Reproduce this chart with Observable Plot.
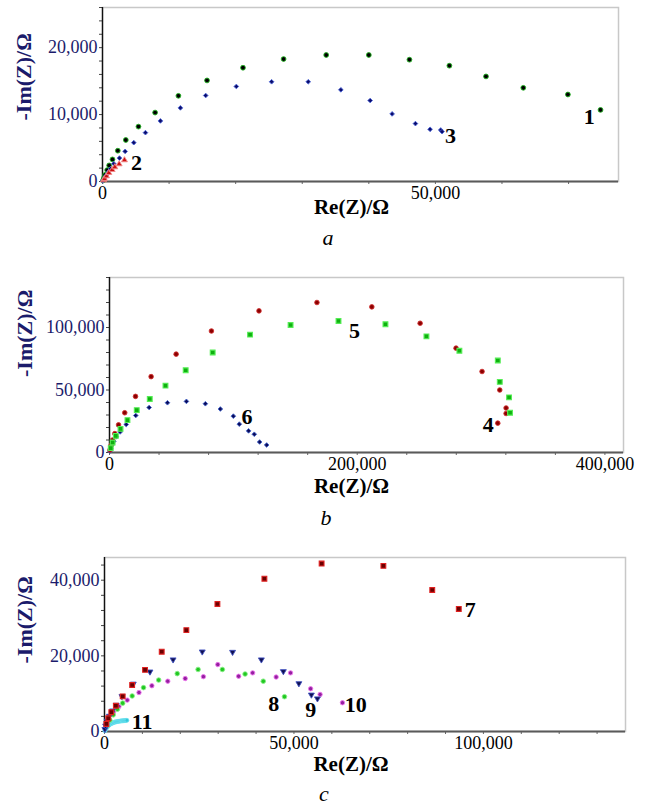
<!DOCTYPE html>
<html>
<head>
<meta charset="utf-8">
<script src="https://cdn.jsdelivr.net/npm/d3@7"></script>
<script src="https://cdn.jsdelivr.net/npm/@observablehq/plot@0.6"></script>
<style>
  body { margin: 0; background: #fff; }
  #wrap { position: relative; width: 645px; height: 807px; font-family: "Liberation Serif", "Times New Roman", serif; }
  .panel { position: absolute; left: 0; }
  .cap { position: absolute; font-style: italic; font-size: 22px; transform: translate(-50%, -50%); line-height: 1; }
  g[aria-label="y-axis tick label"] text { fill: #1b1b6b; }
  g[aria-label="x-axis tick label"] text { fill: #000; }
</style>
</head>
<body>
<div id="wrap"></div>
<script>
// ---------- Panel a ----------
const s1Re = [80, 200, 400, 700, 1000, 1500, 2300, 3500, 5400, 7900, 11400, 15700, 21100, 27200, 33600, 40000, 46100, 52100, 57600, 63200, 69900, 74800];
const s1Im = [150, 500, 1000, 1700, 2400, 3300, 4600, 6200, 8200, 10300, 12800, 15100, 17000, 18300, 18900, 18900, 18200, 17300, 15700, 14000, 13000, 10700];
const s2Re = [150, 300, 600, 950, 1450, 1850, 2500, 3300];
const s2Im = [200, 400, 800, 1300, 1750, 2150, 2600, 3200];
const s3Re = [50, 150, 300, 500, 700, 950, 1200, 1700, 2550, 3400, 4700, 6450, 8700, 11700, 15500, 20100, 25400, 30900, 35800, 40200, 43500, 47000, 49200, 50800, 51000];
const s3Im = [80, 250, 500, 800, 1100, 1500, 1900, 2650, 3500, 4500, 5800, 7300, 9050, 11000, 12850, 14200, 14900, 14900, 13700, 12100, 10100, 8650, 7800, 7700, 7450];
const labelsA = ["1", "2", "3"];
const labelsARe = [73100, 5100, 52250];
const labelsAIm = [9600, 2840, 6870];

// ---------- Panel b ----------
const s4Re = [400, 1200, 2500, 4300, 7300, 12300, 21000, 33600, 53800, 82300, 120700, 167500, 211800, 250800, 279800, 300800, 315100, 320200, 320200, 313500];
const s4Im = [2000, 5500, 10000, 15100, 22100, 31800, 44900, 60700, 78700, 97200, 113300, 120000, 116500, 103400, 83500, 64800, 50000, 35600, 31200, 23500];
const s5Re = [1000, 2500, 5100, 8900, 14500, 22000, 32500, 45200, 61500, 83300, 113500, 146200, 184900, 222800, 255900, 282500, 313500, 315100, 322600, 323400];
const s5Im = [3500, 8000, 13300, 18900, 25900, 33900, 42800, 53500, 65800, 80000, 94300, 102000, 105200, 102600, 92900, 81400, 73600, 56500, 44100, 31800];
const s6Re = [300, 1000, 2000, 3500, 5600, 8600, 13500, 21200, 32000, 46800, 62100, 77400, 89500, 100000, 104800, 112300, 116900, 121200, 126900];
const s6Im = [1000, 3000, 6000, 9000, 12700, 16500, 22400, 29600, 36000, 39800, 40900, 39000, 34800, 29100, 22700, 17300, 14600, 8400, 6000];
const labelsB = ["4", "5", "6"];
const labelsBRe = [305900, 197800, 111000];
const labelsBIm = [22100, 96900, 28800];

// ---------- Panel c ----------
const s7Re = [500, 1000, 1800, 3000, 4800, 7300, 10700, 15100, 21600, 29800, 42200, 57300, 73600, 86500, 93500];
const s7Im = [2000, 3500, 5100, 6800, 9300, 12300, 16300, 21100, 26800, 33700, 40400, 44400, 43800, 37400, 32400];
const s8Re = [600, 1400, 2300, 3400, 4800, 7300, 10300, 14300, 19200, 24700, 31100, 37100, 41900, 47500];
const s8Im = [1500, 3000, 4400, 5900, 7500, 9400, 11600, 13600, 15300, 16400, 16400, 15200, 13300, 9200];
const s9Re = [100, 300, 700, 1300, 2100, 3100, 4600, 7600, 12000, 18100, 25800, 33800, 41400, 47200, 51300, 54600, 56200];
const s9Im = [600, 1500, 2800, 4100, 5500, 7000, 9300, 12600, 15800, 19000, 21100, 21000, 19000, 15900, 12700, 9700, 8700];
const s10Re = [2400, 3800, 6000, 9100, 12500, 16700, 21300, 26100, 29900, 35400, 39100, 45300, 49100, 54400, 56900, 62800];
const s10Im = [5200, 6600, 8300, 10300, 12100, 13300, 14000, 14500, 17700, 14600, 15500, 14400, 15500, 11300, 9800, 7600];
const s11Re = [100, 200, 350, 500, 700, 900, 1150, 1400, 1700, 2000, 2300, 2600, 2900, 3200, 3500, 3800, 4100, 4400, 4700, 5000, 5300, 5600, 5900];
const s11Im = [200, 400, 650, 900, 1150, 1400, 1650, 1850, 2050, 2200, 2330, 2450, 2530, 2600, 2660, 2700, 2750, 2800, 2830, 2860, 2890, 2920, 2950];
const labelsC = ["7", "8", "9", "10", "11"];
const labelsCRe = [96500, 44700, 54400, 66300, 9950];
const labelsCIm = [32200, 7400, 5700, 6900, 2500];

const captions = ["a", "b", "c"];
const xTitle = "Re(Z)/Ω";
const yTitle = "-Im(Z)/Ω";

// ---------- helpers ----------
const zip = (xs, ys) => xs.map((x, i) => ({x, y: ys[i]}));
const fmt = d3.format(",");
const triDown = {
  draw(ctx, size) {
    const s = Math.sqrt(size * 4 / Math.sqrt(3));
    const h = s * Math.sqrt(3) / 2;
    ctx.moveTo(-s / 2, -h / 3);
    ctx.lineTo(s / 2, -h / 3);
    ctx.lineTo(0, 2 * h / 3);
    ctx.closePath();
  }
};
const FONT = "Liberation Serif";

function panel(cfg) {
  const marks = [
    Plot.frame({stroke: "#c8c8c8", strokeWidth: 1.5}),
    Plot.axisX({ticks: cfg.xTicks, tickFormat: d => d % cfg.xLab === 0 ? fmt(d) : "", tickSize: 3, tickPadding: 2, stroke: "#666", label: null}),
    Plot.axisY({ticks: cfg.yTicks, tickFormat: d => d % cfg.yLab === 0 ? fmt(d) : "", tickSize: 3, tickPadding: 2, stroke: "#444", label: null}),
    Plot.ruleY([0], {stroke: "#5a5a5a", strokeWidth: 2.2}),
    Plot.ruleX([0], {stroke: "#111", strokeWidth: 1.4})
  ];
  for (const s of cfg.series) {
    marks.push(Plot.dot(zip(s.re, s.im), {x: "x", y: "y", symbol: s.symbol, r: s.r, fill: s.fill, stroke: s.stroke, strokeWidth: s.sw ?? 0.9}));
  }
  marks.push(Plot.text(cfg.labels.map((t, i) => ({t, x: cfg.labRe[i], y: cfg.labIm[i]})),
    {x: "x", y: "y", text: "t", fontFamily: FONT, fontWeight: "bold", fontSize: 22, fill: "#000"}));
  marks.push(Plot.text([xTitle], {frameAnchor: "bottom", dx: cfg.xtDx, dy: cfg.xtDy, fontFamily: FONT, fontWeight: "bold", fontSize: 21, fill: "#000"}));
  marks.push(Plot.text([yTitle], {frameAnchor: "left", dx: cfg.ytDx, dy: cfg.ytDy, rotate: -90, fontFamily: FONT, fontWeight: "bold", fontSize: 22, fill: "#1b1b6b"}));
  return Plot.plot({
    width: 645,
    height: cfg.height,
    marginTop: cfg.mt, marginBottom: cfg.mb, marginLeft: cfg.ml, marginRight: cfg.mr,
    x: {domain: [0, cfg.xMax]},
    y: {domain: [0, cfg.yMax]},
    style: {fontFamily: FONT, fontSize: "18px", background: "transparent", overflow: "visible"},
    marks
  });
}

const wrap = document.getElementById("wrap");
const configs = [
  {top: 0, height: 230, mt: 7, mb: 49, ml: 102, mr: 27, xMax: 77500, yMax: 26000,
   xTicks: d3.range(0, 77501, 10000), xLab: 50000, yTicks: d3.range(0, 26001, 2000), yLab: 10000,
   xtDx: -9, xtDy: 32, ytDx: -79, ytDy: 26,
   labels: labelsA, labRe: labelsARe, labIm: labelsAIm,
   series: [
     {re: s1Re, im: s1Im, symbol: "circle", r: 2.4, fill: "#000", stroke: "#22b422"},
     {re: s3Re, im: s3Im, symbol: "diamond2", r: 2.1, fill: "#0b0b6b", stroke: "#4a64d8"},
     {re: s2Re, im: s2Im, symbol: "triangle", r: 2.2, fill: "#cc1010", stroke: "#f08a8a"}
   ], cap: 238, capX: 328},
  {top: 250, height: 250, mt: 27, mb: 48, ml: 109, mr: 22, xMax: 415000, yMax: 140000,
   xTicks: d3.range(0, 415001, 40000), xLab: 200000, yTicks: d3.range(0, 140001, 10000), yLab: 50000,
   xtDx: -15, xtDy: 40, ytDx: -85, ytDy: 12,
   labels: labelsB, labRe: labelsBRe, labIm: labelsBIm,
   series: [
     {re: s6Re, im: s6Im, symbol: "diamond2", r: 2.1, fill: "#0a0a5a", stroke: "#4466cc"},
     {re: s4Re, im: s4Im, symbol: "circle", r: 2.3, fill: "#8b0000", stroke: "#d03030"},
     {re: s5Re, im: s5Im, symbol: "square", r: 2.7, fill: "#10b010", stroke: "#55ee55", sw: 1.1}
   ], cap: 518, capX: 326},
  {top: 530, height: 250, mt: 27, mb: 49, ml: 104, mr: 20, xMax: 137500, yMax: 46000,
   xTicks: d3.range(0, 137501, 10000), xLab: 50000, yTicks: d3.range(0, 46001, 4000), yLab: 20000,
   xtDx: -14, xtDy: 39, ytDx: -80, ytDy: 19,
   labels: labelsC, labRe: labelsCRe, labIm: labelsCIm,
   series: [
     {re: s11Re, im: s11Im, symbol: "circle", r: 2.0, fill: "#33c8dc", stroke: "#6fe2ee"},
     {re: s10Re, im: s10Im, symbol: "circle", r: 2.2, fill: "#9420a0", stroke: "#ee77ee"},
     {re: s8Re, im: s8Im, symbol: "circle", r: 2.3, fill: "#22c822", stroke: "#88ee88"},
     {re: s9Re, im: s9Im, symbol: triDown, r: 2.2, fill: "#101050", stroke: "#4050c0"},
     {re: s7Re, im: s7Im, symbol: "square", r: 2.7, fill: "#6b0000", stroke: "#e02020", sw: 1.1}
   ], cap: 794, capX: 324}
];

configs.forEach((cfg, i) => {
  const svg = panel(cfg);
  svg.classList.add("panel");
  svg.style.top = cfg.top + "px";
  wrap.appendChild(svg);
  const c = document.createElement("div");
  c.className = "cap";
  c.textContent = captions[i];
  c.style.left = cfg.capX + "px";
  c.style.top = cfg.cap + "px";
  wrap.appendChild(c);
});
</script>
</body>
</html>
